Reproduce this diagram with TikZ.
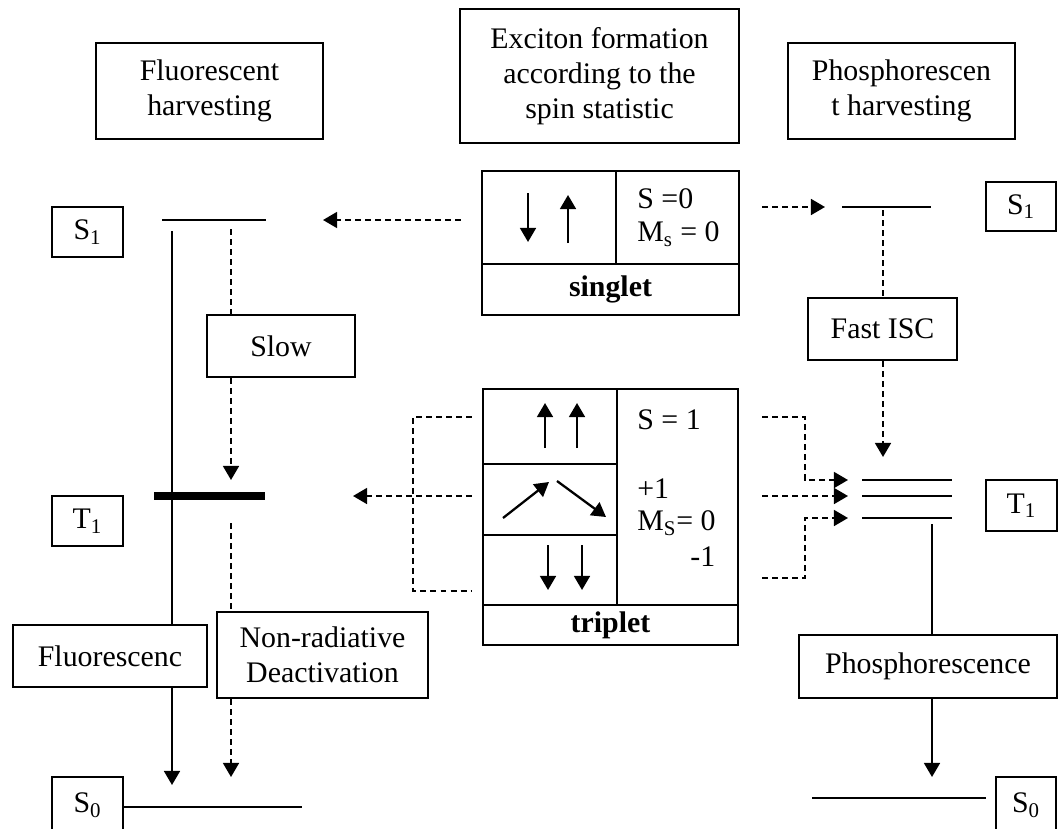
\documentclass[tikz,border=0pt]{standalone}
\usepackage{fontspec}
\setmainfont{Liberation Serif}
\usetikzlibrary{arrows.meta}

\tikzset{
  box/.style={draw, line width=1.3pt, inner sep=0pt, align=center,
    font=\fontsize{17}{20}\selectfont},
  txt/.style={inner sep=0pt, anchor=west, font=\fontsize{17}{20}\selectfont},
  lvl/.style={line width=1.3pt},
  dsh/.style={line width=1.3pt, dash pattern=on 3.4pt off 2.3pt},
  tip/.style={-{Triangle[length=8pt,width=9pt]}},
}

\begin{document}
\begin{tikzpicture}[x=0.02cm,y=-0.02cm]

\useasboundingbox
(0,0)
rectangle
(1060,828);

\node[box, minimum width=4.54cm, minimum height=1.92cm]
(fh)
at (209.5,91)
{Fluorescent\\harvesting};

\node[box, minimum width=5.58cm, minimum height=2.68cm]
(ex)
at (599.5,76)
{Exciton formation\\according to the\\spin statistic};

\node[box, minimum width=4.54cm, minimum height=1.92cm]
(ph)
at (901.5,91)
{Phosphorescen\\t harvesting};

\node[box, minimum width=1.42cm, minimum height=1cm]
(S1l)
at (87.5,232)
{S\textsubscript{1}};

\node[box, minimum width=1.42cm, minimum height=1cm]
(T1l)
at (87.5,521)
{T\textsubscript{1}};

\node[box, minimum width=1.42cm, minimum height=1.12cm]
(S0l)
at (87.5,805)
{S\textsubscript{0}};

\node[box, minimum width=1.4cm, minimum height=0.98cm]
(S1r)
at (1021,206.5)
{S\textsubscript{1}};

\node[box, minimum width=1.42cm, minimum height=1.02cm]
(T1r)
at (1021.5,505.5)
{T\textsubscript{1}};

\node[box, minimum width=1.2cm, minimum height=1.12cm]
(S0r)
at (1026,805)
{S\textsubscript{0}};

\node[box, minimum width=2.96cm, minimum height=1.24cm]
(slow)
at (281,346)
{Slow};

\node[box, minimum width=3.88cm, minimum height=1.24cm]
(fluo)
at (110,656)
{Fluorescenc};

\node[box, minimum width=4.22cm, minimum height=1.72cm]
(nonrad)
at (322.5,655)
{Non-radiative\\Deactivation};

\node[box, minimum width=2.98cm, minimum height=1.24cm]
(fisc)
at (882.5,329)
{Fast ISC};

\node[box, minimum width=5.16cm, minimum height=1.26cm]
(phos)
at (928,666.5)
{Phosphorescence};

\node[box, minimum width=2.68cm, minimum height=1.86cm]
(sSpin)
at (549,217.5)
{};

\node[box, minimum width=2.46cm, minimum height=1.86cm]
(sQn)
at (677.5,217.5)
{};

\node[box, minimum width=5.14cm, minimum height=1.02cm]
(sLbl)
at (610.5,289.5)
{\textbf{singlet}};

\node[txt]
(sS)
at (637,199)
{S =0};

\node[txt]
(sM)
at (637,234)
{M\textsubscript{s} = 0};

\draw[lvl,tip]
(528,193)
--
(528,242);

\draw[lvl,tip]
(568,243)
--
(568,195);

\node[box, minimum width=2.68cm, minimum height=1.5cm]
(tUp)
at (550,426.5)
{};

\node[box, minimum width=2.68cm, minimum height=1.42cm]
(tMix)
at (550,499.5)
{};

\node[box, minimum width=2.68cm, minimum height=1.4cm]
(tDn)
at (550,570)
{};

\node[box, minimum width=2.42cm, minimum height=4.32cm]
(tQn)
at (677.5,497)
{};

\node[box, minimum width=5.1cm, minimum height=0.8cm]
(tLbl)
at (610.5,625)
{\textbf{triplet}};

\node[txt]
(tS)
at (637,420)
{S = 1};

\node[txt]
(tP)
at (637,489)
{+1};

\node[txt]
(tM)
at (637,523)
{M\textsubscript{S}= 0};

\node[txt]
(tN)
at (690,557)
{-1};

\draw[lvl,tip]
(545,448)
--
(545,403);

\draw[lvl,tip]
(577,448)
--
(577,403);

\draw[lvl,tip]
(503,518)
--
(549,482);

\draw[lvl,tip]
(557,481)
--
(606,517);

\draw[lvl,tip]
(548,545)
--
(548,590);

\draw[lvl,tip]
(582,545)
--
(582,590);

\coordinate (s1La) at (162,220);
\coordinate (s1Lb) at (266,220);
\coordinate (t1La) at (154,496);
\coordinate (t1Lb) at (265,496);
\coordinate (s0La) at (302,807);
\coordinate (flx) at (172,220);
\coordinate (nrx) at (231,220);

\coordinate (s1Ra) at (842,207);
\coordinate (s1Rb) at (931,207);
\coordinate (tRa1) at (862,480);
\coordinate (tRb1) at (952,480);
\coordinate (tRa2) at (862,496);
\coordinate (tRb2) at (952,496);
\coordinate (tRa3) at (862,518);
\coordinate (tRb3) at (952,518);
\coordinate (s0Ra) at (812,798);
\coordinate (isc) at (883,207);
\coordinate (phx) at (932,518);

\coordinate (bLt) at (413,417);
\coordinate (bLb) at (413,591);
\coordinate (bRt) at (805,417);
\coordinate (bRb) at (805,578);

\draw[lvl]
(s1La)
--
(s1Lb);

\draw[line width=4pt]
(t1La)
--
(t1Lb);

\draw[lvl]
(S0l.east |- s0La)
--
(s0La);

\draw[lvl]
(s1Ra)
--
(s1Rb);

\draw[lvl]
(tRa1)
--
(tRb1);

\draw[lvl]
(tRa2)
--
(tRb2);

\draw[lvl]
(tRa3)
--
(tRb3);

\draw[lvl, shorten >=0.18cm]
(s0Ra)
--
(s0Ra -| S0r.west);

\draw[lvl, shorten <=0.22cm]
(flx)
--
(flx |- fluo.north);

\draw[lvl, tip, shorten >=0.44cm]
(flx |- fluo.south)
--
(flx |- s0La);

\draw[dsh, shorten <=0.18cm]
(nrx)
--
(nrx |- slow.north);

\draw[dsh, tip, shorten >=0.32cm]
(nrx |- slow.south)
--
(nrx |- t1Lb);

\draw[dsh, shorten <=0.54cm]
(nrx |- t1Lb)
--
(nrx |- nonrad.north);

\draw[dsh, tip, shorten >=0.6cm]
(nrx |- nonrad.south)
--
(nrx |- s0La);

\draw[dsh, tip, shorten <=0.4cm, shorten >=1.14cm]
(sSpin.west |- s1Lb)
--
(s1Lb);

\draw[dsh, tip, shorten <=0.44cm, shorten >=0.34cm]
(sQn.east |- s1Ra)
--
(s1Ra);

\draw[dsh, shorten <=0.2cm, shorten >=0.2cm]
(tUp.west |- bLt)
--
(bLt)
--
(bLb)
--
(tDn.west |- bLb);

\draw[dsh, tip, shorten <=0.2cm, shorten >=1.76cm]
(tMix.west |- t1Lb)
--
(t1Lb);

\draw[dsh, tip, shorten <=0.46cm, shorten >=0.28cm]
(tQn.east |- bRt)
--
(bRt)
--
(bRt |- tRa1)
--
(tRa1);

\draw[dsh, tip, shorten <=0.46cm, shorten >=0.28cm]
(tQn.east |- tRa2)
--
(tRa2);

\draw[dsh, tip, shorten <=0.46cm, shorten >=0.28cm]
(tQn.east |- bRb)
--
(bRb)
--
(bRb |- tRa3)
--
(tRa3);

\draw[dsh, shorten <=0.06cm]
(isc)
--
(isc |- fisc.north);

\draw[dsh, tip, shorten >=0.46cm]
(isc |- fisc.south)
--
(isc |- tRa1);

\draw[lvl, shorten <=0.12cm]
(phx)
--
(phx |- phos.north);

\draw[lvl, tip, shorten >=0.42cm]
(phx |- phos.south)
--
(phx |- s0Ra);

\end{tikzpicture}
\end{document}
